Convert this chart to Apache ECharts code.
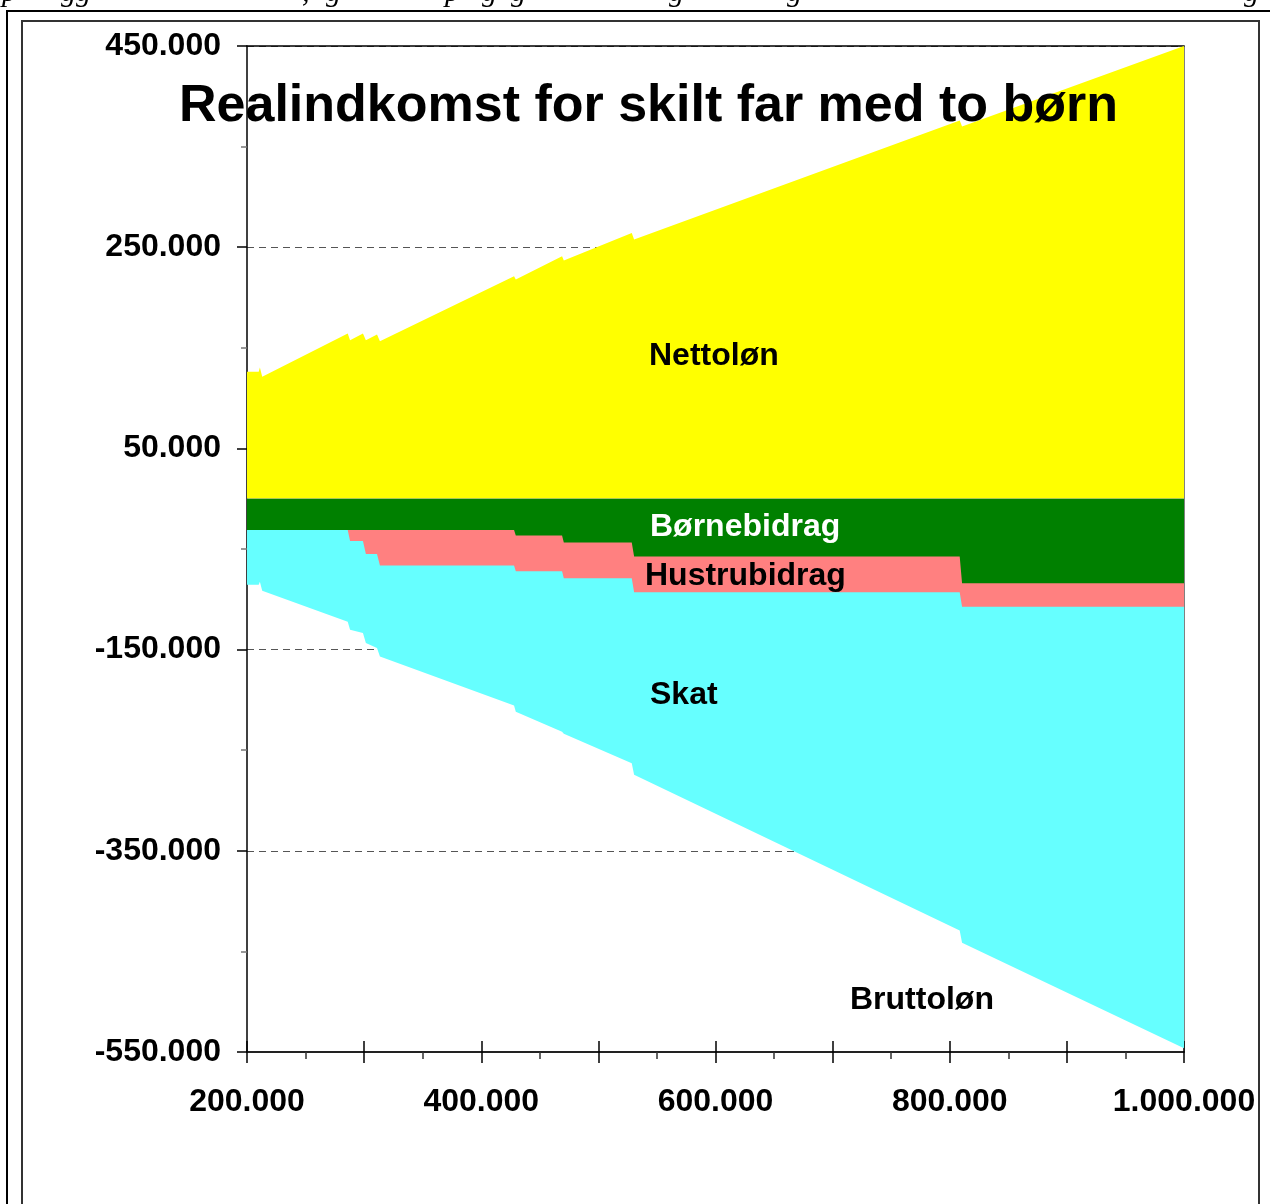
<!DOCTYPE html>
<html>
<head>
<meta charset="utf-8">
<title>Realindkomst for skilt far med to børn</title>
<script src="https://cdn.jsdelivr.net/npm/echarts@6/dist/echarts.min.js"></script>
<style>
  html, body { margin: 0; padding: 0; background: #fff; }
  #main { width: 1270px; height: 1204px; }
</style>
</head>
<body>
<div id="main"></div>
<script>
// bruttoløn (x) og de fire lag
var incomeX = [200000, 210000, 211000, 213000, 286000, 288000, 299000, 301500, 311000, 313500,
  428000, 429500, 469000, 470500, 528500, 530500, 808500, 810500, 1000000]
var nettolon = [126300, 126300, 130300, 121300, 164100, 157400, 164100, 157400, 163100, 156400,
  221100, 217800, 241000, 236700, 264200, 257600, 375900, 369900, 450000]
var bornebidrag = [-31000, -31000, -31000, -31000, -31000, -31000, -31000, -31000, -31000, -31000,
  -31000, -36500, -36500, -43500, -43500, -57500, -57500, -84000, -84000]
var hustrubidrag = [0, 0, 0, 0, 0, -11000, -11000, -24000, -24000, -35500,
  -35500, -35500, -35500, -35500, -35500, -35500, -35500, -23500, -23500]
var skat = [-54500, -54500, -51600, -60500, -91300, -88300, -91600, -88500, -93500, -90300,
  -139100, -139800, -159700, -154700, -183900, -181500, -336300, -333800, -438800]

var yLabelValues = [-550000, -350000, -150000, 50000, 250000, 450000]
var yMinorValues = [-450000, -250000, -50000, 150000, 350000]

var FONT = '"Liberation Sans", Arial, sans-serif'

// de negative lag lægges oven på hinanden: skat nederst, så hustrubidrag, så børnebidrag
var sumHustru = bornebidrag.map(function (v, i) { return v + hustrubidrag[i] })
var sumSkat = sumHustru.map(function (v, i) { return v + skat[i] })

function fmt(v) {
  return String(v).replace(/\B(?=(\d{3})+(?!\d))/g, '.')
}
function pairs(vals) {
  return incomeX.map(function (x, i) { return [x, vals[i]] })
}
function areaSeries(name, vals, color) {
  return {
    name: name,
    type: 'line',
    data: pairs(vals),
    symbol: 'none',
    showSymbol: false,
    lineStyle: { width: 0 },
    areaStyle: { color: color, opacity: 1, origin: 0 },
    silent: true,
    z: 2
  }
}
function txt(text, x, y, color, size) {
  return {
    type: 'text', x: x, y: y, silent: true, z: 50,
    style: {
      text: text, fill: color, verticalAlign: 'middle',
      font: 'bold ' + (size || 32) + 'px ' + FONT
    }
  }
}

// rester af teksten over figuren (kun nedstregerne ses)
var topGlyphs = [['p', 2], ['gg', 61], [',', 302], ['g', 326], ['p', 445], ['g', 482], ['g', 511],
  ['g', 669], ['g', 787], ['g', 1244]]

var chart = echarts.init(document.getElementById('main'))

var option = {
  animation: false,
  backgroundColor: '#fff',
  title: {
    text: 'Realindkomst for skilt far med to børn',
    left: 174,
    top: 76,
    textStyle: { fontSize: 52, fontWeight: 'bold', fontFamily: FONT, color: '#000' }
  },
  grid: { left: 247, right: 86, top: 46, bottom: 152 },
  xAxis: [
    {
      type: 'value', position: 'bottom', min: 200000, max: 1000000, interval: 100000,
      axisLine: { onZero: false, lineStyle: { color: '#222', width: 2 } },
      axisTick: { length: 11, lineStyle: { color: '#000', width: 1.5 } },
      minorTick: { show: true, splitNumber: 2, length: 7, lineStyle: { color: '#333', width: 1.5 } },
      axisLabel: {
        margin: 34, fontSize: 32, fontWeight: 'bold', fontFamily: FONT, color: '#000',
        showMinLabel: true, showMaxLabel: true,
        formatter: function (v) { return (v / 100000) % 2 === 0 ? fmt(v) : '' }
      },
      splitLine: { show: false }
    },
    {
      type: 'value', position: 'bottom', min: 200000, max: 1000000, interval: 100000,
      axisLine: { show: false, onZero: false },
      axisTick: { inside: true, length: 11, lineStyle: { color: '#000', width: 1.5 } },
      axisLabel: { show: false },
      splitLine: { show: false }
    },
    {
      type: 'value', position: 'top', min: 200000, max: 1000000,
      axisLine: { onZero: false, lineStyle: { color: '#000', width: 1.5 } },
      axisTick: { show: false },
      axisLabel: { show: false },
      splitLine: { show: false }
    }
  ],
  yAxis: [
    {
      type: 'value', position: 'left', min: -550000, max: 450000,
      axisLine: { show: true, onZero: false, lineStyle: { color: '#000', width: 1.5 } },
      axisTick: { show: true, customValues: yLabelValues, length: 10, lineStyle: { color: '#000', width: 1.5 } },
      axisLabel: {
        customValues: yLabelValues, margin: 26, fontSize: 32, fontWeight: 'bold',
        fontFamily: FONT, color: '#000', formatter: fmt
      },
      splitLine: { show: true, lineStyle: { color: '#555', width: 1, type: [7, 5] } }
    },
    {
      type: 'value', position: 'left', min: -550000, max: 450000,
      axisLine: { show: false, onZero: false },
      axisTick: { show: true, customValues: yMinorValues, length: 6, lineStyle: { color: '#777', width: 1.5 } },
      axisLabel: { show: false },
      splitLine: { show: false }
    },
    {
      type: 'value', position: 'right', min: -550000, max: 450000,
      axisLine: { show: true, onZero: false, lineStyle: { color: '#808080', width: 1 } },
      axisTick: { show: false },
      axisLabel: { show: false },
      splitLine: { show: false }
    }
  ],
  series: [
    areaSeries('Nettoløn', nettolon, '#FFFF00'),
    areaSeries('Skat', sumSkat, '#66FFFF'),
    areaSeries('Hustrubidrag', sumHustru, '#FF8080'),
    areaSeries('Børnebidrag', bornebidrag, '#008000')
  ],
  graphic: [
    { type: 'rect', silent: true, shape: { x: 7, y: 11, width: 1300, height: 1300 },
      style: { fill: 'transparent', stroke: '#000', lineWidth: 2 } },
    { type: 'rect', silent: true, shape: { x: 22, y: 21, width: 1237, height: 1300 },
      style: { fill: 'transparent', stroke: '#333', lineWidth: 2 } },
    txt('Nettoløn', 649, 356, '#000'),
    txt('Børnebidrag', 650, 527, '#fff'),
    txt('Hustrubidrag', 645, 576, '#000'),
    txt('Skat', 650, 695, '#000'),
    txt('Bruttoløn', 850, 1000, '#000')
  ].concat(topGlyphs.map(function (g) {
    return {
      type: 'text', x: g[1], y: 8, silent: true,
      style: { text: g[0], fill: '#000', verticalAlign: 'bottom', font: 'italic 30px "Liberation Serif", serif' }
    }
  }))
}

chart.setOption(option)
</script>
</body>
</html>
